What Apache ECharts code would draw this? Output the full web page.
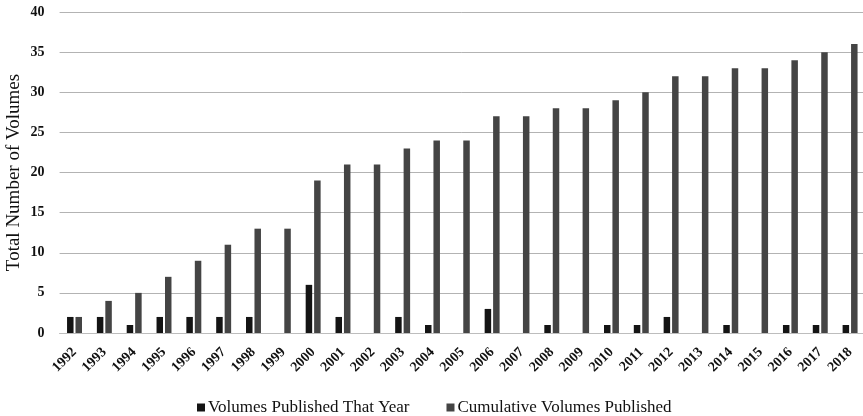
<!DOCTYPE html>
<html><head><meta charset="utf-8">
<script src="https://cdn.jsdelivr.net/npm/echarts@6/dist/echarts.min.js"></script>
<style>html,body{margin:0;padding:0;background:#fff}#c{width:863px;height:416px}</style>
</head><body><div id="c"></div>
<script>
const years = ['1992','1993','1994','1995','1996','1997','1998','1999','2000','2001','2002','2003','2004','2005','2006','2007','2008','2009','2010','2011','2012','2013','2014','2015','2016','2017','2018'];
const annual = [2,2,1,2,2,2,2,0,6,2,0,2,1,0,3,0,1,0,1,1,2,0,1,0,1,1,1];
const cumulative = [2,4,5,7,9,11,13,13,19,21,21,23,24,24,27,27,28,28,29,30,32,32,33,33,34,35,36];
const yTicks = [0,5,10,15,20,25,30,35,40];

const font = '"Liberation Serif", "Times New Roman", serif';
const chart = echarts.init(document.getElementById('c'));
chart.setOption({
  animation:false,
  textStyle:{fontFamily:font},
  grid:{left:59.6, top:12, width:805.4, bottom:83, containLabel:false, outerBoundsMode:'none'},
  legend:{
    bottom:0, left:197, padding:0, itemWidth:8, itemHeight:8, itemGap:37,
    icon:'rect',
    textStyle:{fontFamily:font, fontSize:17, color:'#111', padding:[0,0,0,-2]},
    data:['Volumes Published That Year','Cumulative Volumes Published']
  },
  xAxis:{
    type:'category', data:years,
    axisLine:{show:true, lineStyle:{color:'#bdbdbd', width:1}},
    axisTick:{show:false},
    axisLabel:{rotate:45, fontFamily:font, fontSize:14, fontWeight:'bold', color:'#111', margin:17, interval:0}
  },
  yAxis:{
    type:'value', min:yTicks[0], max:yTicks[yTicks.length-1], interval:5,
    name:'Total Number of Volumes', nameLocation:'middle', nameGap:36, nameRotate:90,
    nameMoveOverlap:false,
    nameTextStyle:{fontFamily:font, fontSize:19, color:'#111'},
    axisLine:{show:false}, axisTick:{show:false},
    axisLabel:{fontFamily:font, fontSize:14, fontWeight:'bold', color:'#111', margin:15},
    splitLine:{lineStyle:{color:'#b3b3b3', width:1}}
  },
  series:[
    {name:'Volumes Published That Year', type:'bar', data:annual, barWidth:6.5, barGap:'30%',
     itemStyle:{color:'#141414'}},
    {name:'Cumulative Volumes Published', type:'bar', data:cumulative, barWidth:6.5,
     itemStyle:{color:'#444444'}}
  ]
});
</script></body></html>
